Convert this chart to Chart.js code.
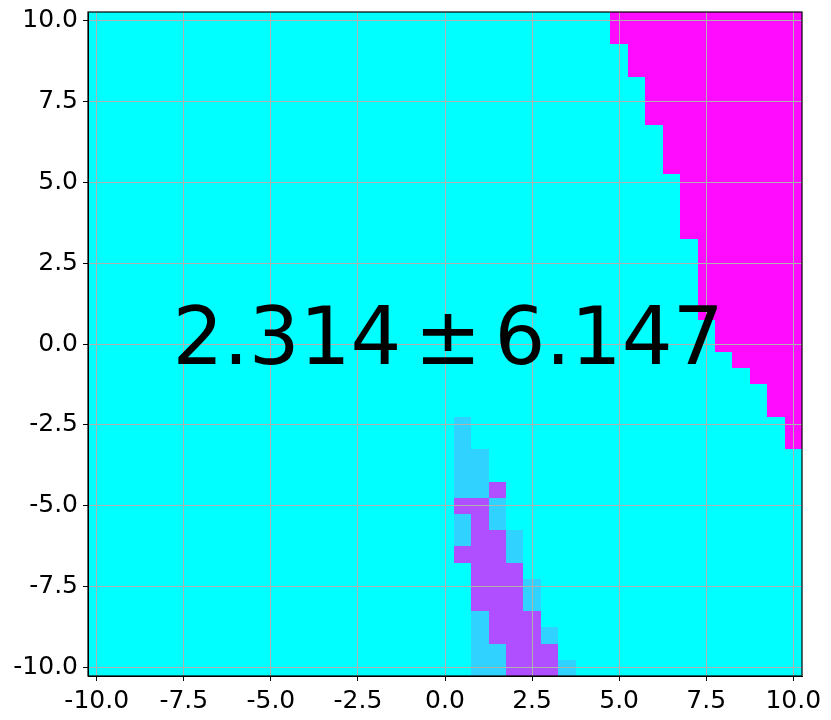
<!DOCTYPE html>
<html><head><meta charset="utf-8">
<script src="https://cdn.jsdelivr.net/npm/chart.js@4/dist/chart.umd.min.js"></script>
<style>html,body{margin:0;padding:0;background:#fff}#wrap{width:831px;height:720px;position:relative}</style>
</head><body><div id="wrap"><canvas id="c"></canvas></div>
<script>
// Grid cell centers (x left->right, y top->bottom)
const xCenters = [-10,-9.5,-9,-8.5,-8,-7.5,-7,-6.5,-6,-5.5,-5,-4.5,-4,-3.5,-3,-2.5,-2,-1.5,-1,-0.5,0,0.5,1,1.5,2,2.5,3,3.5,4,4.5,5,5.5,6,6.5,7,7.5,8,8.5,9,9.5,10];
const yCenters = [10,9.5,9,8.5,8,7.5,7,6.5,6,5.5,5,4.5,4,3.5,3,2.5,2,1.5,1,0.5,0,-0.5,-1,-1.5,-2,-2.5,-3,-3.5,-4,-4.5,-5,-5.5,-6,-6.5,-7,-7.5,-8,-8.5,-9,-9.5,-10];
// For each row (same order as yCenters): x of first cell in the high (level 3) region, or null
const highFromX = [5,5,5.5,5.5,6,6,6,6.5,6.5,6.5,7,7,7,7,7.5,7.5,7.5,7.5,7.5,8,8,8.5,9,9.5,9.5,10,10,
  null,null,null,null,null,null,null,null,null,null,null,null,null,null];
// Level 1 cells [x, y]
const level1Cells = [[0.5,-2.5],[0.5,-3],[0.5,-3.5],[1,-3.5],[0.5,-4],[1,-4],[0.5,-4.5],[1,-4.5],
  [1.5,-5],[0.5,-5.5],[1.5,-5.5],[0.5,-6],[2,-6],[2,-6.5],[2.5,-7.5],[2.5,-8],[1,-8.5],
  [1,-9],[3,-9],[1,-9.5],[1.5,-9.5],[1,-10],[1.5,-10],[3.5,-10]];
// Level 2 cells [x, y]
const level2Cells = [[1.5,-4.5],[0.5,-5],[1,-5],[1,-5.5],[1,-6],[1.5,-6],[0.5,-6.5],[1,-6.5],[1.5,-6.5],
  [1,-7],[1.5,-7],[2,-7],[1,-7.5],[1.5,-7.5],[2,-7.5],[1,-8],[1.5,-8],[2,-8],
  [1.5,-8.5],[2,-8.5],[2.5,-8.5],[1.5,-9],[2,-9],[2.5,-9],[2,-9.5],[2.5,-9.5],[3,-9.5],
  [2,-10],[2.5,-10],[3,-10]];
const tickValues = [-10,-7.5,-5,-2.5,0,2.5,5,7.5,10];
const annotationText = ['2.314', '\u00b1', '6.147'];

const levelColors = ['#00ffff', '#30d2ff', '#b04fff', '#ff0cff'];

const cells = [];
yCenters.forEach((yv, r) => {
  xCenters.forEach(xv => {
    let v = 0;
    if (highFromX[r] !== null && xv >= highFromX[r]) v = 3;
    if (level1Cells.some(c => c[0] === xv && c[1] === yv)) v = 1;
    if (level2Cells.some(c => c[0] === xv && c[1] === yv)) v = 2;
    cells.push({x: xv, y: yv, v});
  });
});
const halfW = (xCenters[1] - xCenters[0]) / 2;
const halfH = (yCenters[0] - yCenters[1]) / 2;

const cellPlugin = {
  id: 'cells',
  beforeDatasetsDraw(chart) {
    const {ctx, scales: {x, y}} = chart;
    ctx.save();
    for (const p of chart.data.datasets[0].data) {
      const l = Math.round(x.getPixelForValue(p.x - halfW));
      const r = Math.round(x.getPixelForValue(p.x + halfW));
      const t = Math.round(y.getPixelForValue(p.y + halfH));
      const b = Math.round(y.getPixelForValue(p.y - halfH));
      ctx.fillStyle = levelColors[p.v];
      ctx.fillRect(l, t, r - l, b - t);
    }
    ctx.restore();
  }
};

const framePlugin = {
  id: 'frame',
  afterDraw(chart) {
    const {ctx, chartArea: a, scales: {x, y}} = chart;
    ctx.save();
    ctx.strokeStyle = '#000';
    ctx.lineWidth = 1.2;
    ctx.strokeRect(a.left, a.top, a.right - a.left, a.bottom - a.top);
    // annotation text
    ctx.fillStyle = '#000';
    ctx.font = '80px "DejaVu Sans"';
    ctx.textBaseline = 'alphabetic';
    const cx = x.getPixelForValue(0) + 3;
    const by = y.getPixelForValue(-0.63);
    const pmW = ctx.measureText(annotationText[1]).width;
    const gap = 13;
    ctx.textAlign = 'center';
    ctx.fillText(annotationText[1], cx, by);
    ctx.textAlign = 'right';
    ctx.fillText(annotationText[0], cx - pmW / 2 - gap, by);
    ctx.textAlign = 'left';
    ctx.fillText(annotationText[2], cx + pmW / 2 + gap, by);
    ctx.restore();
  }
};

const tickFont = {family: 'DejaVu Sans', size: 25};
function axisOpts(fit) {
  return {
    type: 'linear', min: -10.25, max: 10.25,
    grid: {color: '#b0b0b0', lineWidth: 1, z: 1, drawTicks: true, tickLength: 5, tickColor: '#000', tickWidth: 1},
    border: {display: true, color: '#000', width: 1, z: 1},
    ticks: {font: tickFont, color: '#000', padding: 5, maxRotation: 0, autoSkip: false,
      callback: v => Number(v).toFixed(1)},
    afterBuildTicks(s) { s.ticks = tickValues.map(v => ({value: v})); },
    afterFit: fit
  };
}

new Chart(document.getElementById('c'), {
  type: 'scatter',
  data: {datasets: [{data: cells, pointRadius: 0, pointHoverRadius: 0}]},
  options: {
    responsive: true, maintainAspectRatio: false, animation: false, devicePixelRatio: 1,
    layout: {padding: {top: 12, right: 29, left: 0, bottom: 0}},
    plugins: {legend: {display: false}, tooltip: {enabled: false}},
    events: [],
    scales: {
      x: axisOpts(s => { s.height = 44; s.paddingLeft = 0; s.paddingRight = 0; s.paddingTop = 0; s.paddingBottom = 0; }),
      y: axisOpts(s => { s.width = 88; s.paddingLeft = 0; s.paddingRight = 0; s.paddingTop = 0; s.paddingBottom = 0; })
    }
  },
  plugins: [cellPlugin, framePlugin]
});
</script></body></html>
